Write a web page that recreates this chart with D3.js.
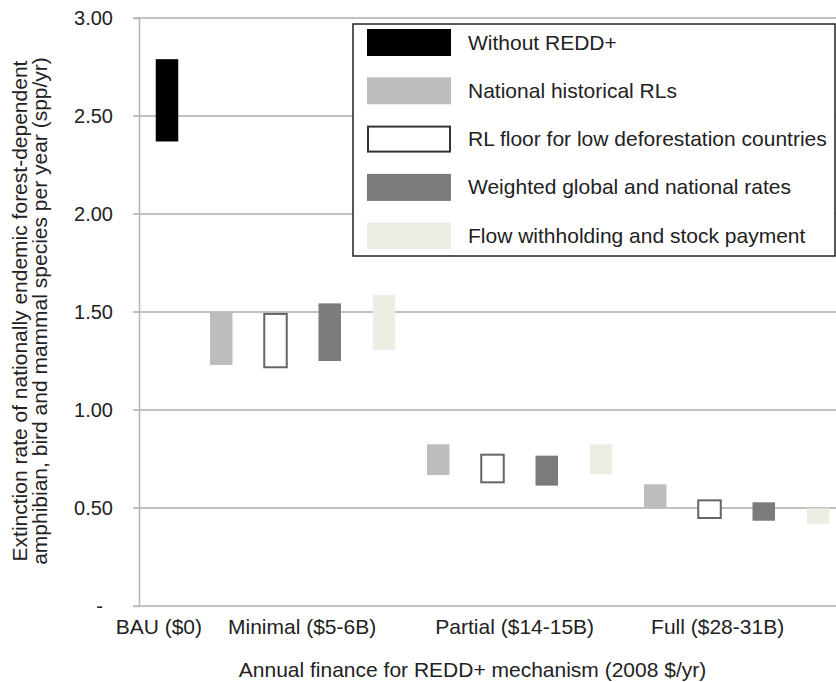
<!DOCTYPE html>
<html>
<head>
<meta charset="utf-8">
<script src="https://cdnjs.cloudflare.com/ajax/libs/d3/7.8.5/d3.min.js"></script>
<style>
	html, body { margin: 0; padding: 0; background: #fff; }
	text { font-family: "Liberation Sans", Arial, sans-serif; fill: #222; }
</style>
</head>
<body>
<svg id="main_svg"></svg>
<script>
const WIDTH = 836;
const HEIGHT = 682;

// series, in drawing order inside each finance level
const series = ['Without REDD+', 'National historical RLs', 'RL floor for low deforestation countries',
	'Weighted global and national rates', 'Flow withholding and stock payment'];

// finance levels (x categories) and where their label sits, in bar-slot units
const categories = ['BAU ($0)', 'Minimal ($5-6B)', 'Partial ($14-15B)', 'Full ($28-31B)'];
const category_label_slot = [-0.15, 2.49, 6.41, 10.15];

// one floating bar per slot: [category, series index, low, high] (spp/yr)
const bau_bars = [[0, 0, 2.37, 2.79]];
const minimal_bars = [[1, 1, 1.23, 1.50], [1, 2, 1.218, 1.49], [1, 3, 1.25, 1.544], [1, 4, 1.306, 1.587]];
const partial_bars = [[2, 1, 0.668, 0.825], [2, 2, 0.631, 0.772], [2, 3, 0.614, 0.767], [2, 4, 0.672, 0.825]];
const full_bars = [[3, 1, 0.50, 0.621], [3, 2, 0.449, 0.539], [3, 3, 0.435, 0.529], [3, 4, 0.417, 0.498]];

const y_ticks = [0, 0.5, 1.0, 1.5, 2.0, 2.5, 3.0];

const fills = ['#000000', '#bdbdbd', '#ffffff', '#7b7b7b', '#eeede4'];
const strokes = [null, null, '#686464', null, null];

const y_title = ['Extinction rate of nationally endemic forest-dependent',
	'amphibian, bird and mammal species per year (spp/yr)'];
const x_title = 'Annual finance for REDD+ mechanism (2008 $/yr)';

const draw = () => {
	const svg = d3.select('#main_svg').attr('width', WIDTH).attr('height', HEIGHT);

	const bars = [...bau_bars, ...minimal_bars, ...partial_bars, ...full_bars]
		.map((d, i) => ({slot: i, cat: d[0], s: d[1], lo: d[2], hi: d[3]}));

	const x_scale = d3.scaleLinear().domain([0, bars.length - 1]).range([167, 818]);
	const y_scale = d3.scaleLinear().domain([0, 3]).range([606, 18]);
	const bar_w = 22.5;

	// gridlines
	svg.append('g')
		.selectAll('line')
		.data(y_ticks.filter(d => d > 0))
		.enter()
		.append('line')
		.attr('x1', 133).attr('x2', WIDTH)
		.attr('y1', d => y_scale(d)).attr('y2', d => y_scale(d))
		.style('stroke', '#c4c0c0').style('stroke-width', '2px');

	// y axis
	const y_axis = svg.append('g')
		.attr('transform', 'translate(139,0)')
		.call(d3.axisLeft(y_scale)
			.tickValues(y_ticks)
			.tickSize(6)
			.tickPadding(20)
			.tickFormat(d => d === 0 ? '-' : d3.format('.2f')(d)));
	y_axis.select('.domain').style('stroke', '#b8b4b4').style('stroke-width', '1.5px');
	y_axis.selectAll('.tick line').style('stroke', 'none');
	y_axis.selectAll('.tick text')
		.style('font-size', '20px')
		.style('fill', '#222')
		.attr('dx', d => d === 0 ? -10 : 0);

	// x axis line
	svg.append('line')
		.attr('x1', 133).attr('x2', WIDTH)
		.attr('y1', y_scale(0)).attr('y2', y_scale(0))
		.style('stroke', '#c4c0c0').style('stroke-width', '2px');

	// category labels
	svg.append('g')
		.selectAll('text')
		.data(categories)
		.enter()
		.append('text')
		.attr('x', (d, i) => x_scale(category_label_slot[i]))
		.attr('y', 634)
		.attr('text-anchor', 'middle')
		.style('font-size', '21px')
		.text(d => d);

	// floating bars
	svg.append('g')
		.selectAll('rect')
		.data(bars)
		.enter()
		.append('rect')
		.attr('x', d => x_scale(d.slot) - bar_w / 2)
		.attr('width', bar_w)
		.attr('y', d => y_scale(d.hi))
		.attr('height', d => y_scale(d.lo) - y_scale(d.hi))
		.style('fill', d => fills[d.s])
		.style('stroke', d => strokes[d.s] || 'none')
		.style('stroke-width', '2px');

	// axis titles
	const yt = svg.append('g').attr('transform', 'translate(0,311) rotate(-90)');
	yt.selectAll('text')
		.data(y_title)
		.enter()
		.append('text')
		.attr('x', 0)
		.attr('y', (d, i) => 27 + i * 20)
		.attr('text-anchor', 'middle')
		.style('font-size', '21px')
		.text(d => d);

	svg.append('text')
		.attr('x', 472.5)
		.attr('y', 677)
		.attr('text-anchor', 'middle')
		.style('font-size', '21px')
		.text(x_title);

	// legend
	const legend = svg.append('g');
	legend.append('rect')
		.attr('x', 353).attr('y', 24)
		.attr('width', 482).attr('height', 232)
		.style('fill', '#fff').style('stroke', '#222').style('stroke-width', '1.5px');

	const row = legend.selectAll('.row')
		.data(series)
		.enter()
		.append('g')
		.attr('class', 'row')
		.attr('transform', (d, i) => `translate(0,${29 + i * 48.3})`);

	row.append('rect')
		.attr('x', (d, i) => strokes[i] ? 368 : 367)
		.attr('y', (d, i) => strokes[i] ? 1 : 0)
		.attr('width', (d, i) => strokes[i] ? 82 : 84)
		.attr('height', (d, i) => strokes[i] ? 25 : 27)
		.style('fill', (d, i) => fills[i])
		.style('stroke', (d, i) => strokes[i] ? '#333' : 'none')
		.style('stroke-width', '2px');

	row.append('text')
		.attr('x', 468)
		.attr('y', 20.5)
		.style('font-size', '21px')
		.text(d => d);
};

window.onload = () => {
	draw();
};
</script>
</body>
</html>
